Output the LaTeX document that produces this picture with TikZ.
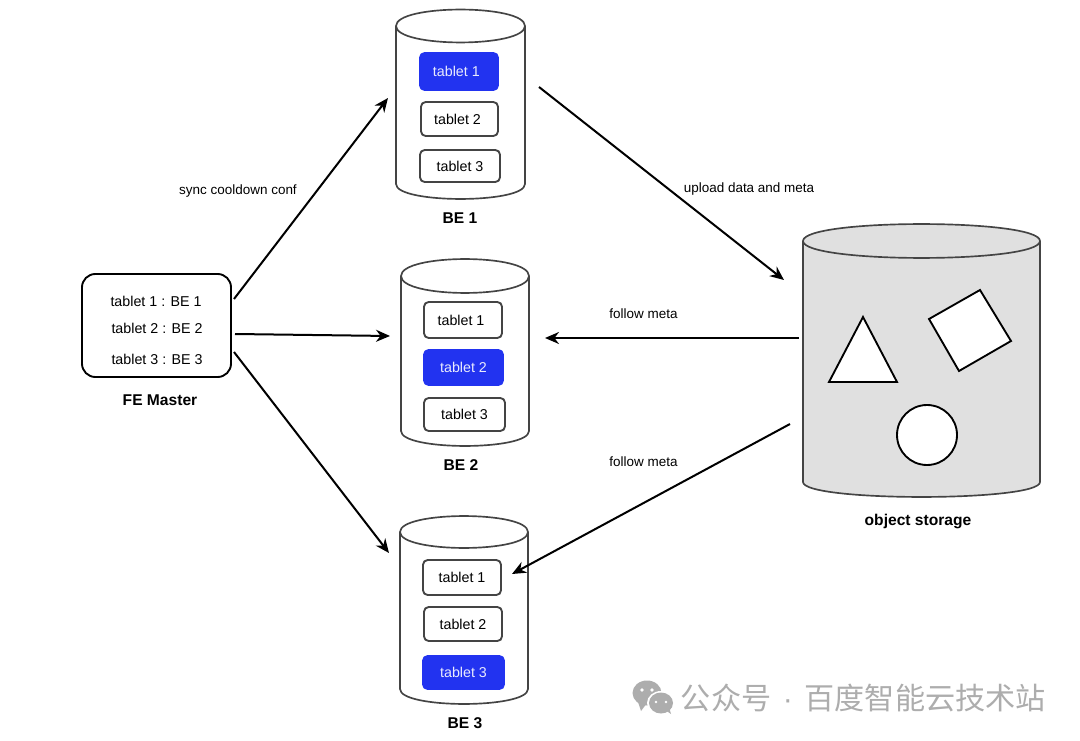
\documentclass[tikz,border=0pt]{standalone}
\usepackage{fontspec}
\setmainfont{Liberation Sans}
\newfontfamily\cjkwm{Noto Sans CJK SC}
\usetikzlibrary{arrows.meta,calc}
\definecolor{edgegray}{HTML}{444444}
\definecolor{tabblue}{HTML}{2233F0}
\definecolor{stgray}{HTML}{E0E0E0}
\definecolor{wmgray}{HTML}{ADADAD}
\tikzset{
  x=0.75pt,y=-0.75pt,
  cyl/.style={draw=edgegray,line width=1.25pt,line join=round},
  tabbox/.style={draw=edgegray,line width=1.4pt,rounded corners=3.5pt,fill=white,text=black,inner sep=0pt,font=\fontsize{10.7}{12}\selectfont},
  tabon/.style={tabbox,draw=tabblue,fill=tabblue,text=white!90!tabblue},
  captext/.style={font=\bfseries\fontsize{11.7}{13}\selectfont,inner sep=0pt},
  lab/.style={font=\fontsize{10.1}{12}\selectfont,inner sep=0pt},
  fetext/.style={font=\fontsize{10.7}{12}\selectfont,inner sep=0pt},
  arr/.style={draw=black,line width=1.5pt,-{Stealth[length=10.5pt,width=9pt]}},
  shp/.style={draw=black,line width=1.4pt,fill=white,line join=miter},
  ghost/.style={inner sep=0pt,outer sep=0pt}
}
% \mycyl{left}{right}{name}{top}{ellipse mid}{side end}{bottom}{fill}
\newcommand{\mycyl}[8]{
  \path[cyl,fill=#8] (#1,#5) -- (#1,#6)
    .. controls (#1,{#7+(#7-#6)*0.33}) and (#2,{#7+(#7-#6)*0.33}) .. (#2,#6) -- (#2,#5)
    .. controls (#2,{#4-(#5-#4)*0.33}) and (#1,{#4-(#5-#4)*0.33}) .. (#1,#5) -- cycle;
  \path[cyl] (#1,#5) .. controls (#1,{#5+(#5-#4)*1.33}) and (#2,{#5+(#5-#4)*1.33}) .. (#2,#5);
  \path ({(#1+#2)/2},{(#4+#7)/2}) node[ghost,minimum width={(#2-#1)*0.75pt},minimum height={(#7-#4)*0.75pt}] (#3) {};
}
% \tablet{name}{style}{x1}{y1}{x2}{y2}{text}
\newcommand{\tablet}[7]{
  \node[#2,minimum width={(#5-#3-2)*0.75pt},minimum height={(#6-#4-2)*0.75pt}] (#1) at ({(#3+#5)/2},{(#4+#6)/2}) {\raisebox{-0.75pt}{#7}};
}
\begin{document}
\begin{tikzpicture}
\useasboundingbox (0,0) rectangle (1080,741);
\fill[white] (0,0) rectangle (1080,741);

% Backend cylinders
\mycyl{396}{525}{be1}{9.5}{26}{184}{199}{white}
\mycyl{401}{529}{be2}{259}{276}{431}{446}{white}
\mycyl{400}{528}{be3}{516}{532}{689}{704}{white}

\tablet{b1a}{tabon}{419}{52}{499}{91}{\hspace*{-4pt}tablet 1}
\tablet{b1b}{tabbox}{420}{101}{499}{137}{\hspace*{-3pt}tablet 2}
\tablet{b1c}{tabbox}{419}{149}{501}{183}{tablet 3}
\tablet{b2a}{tabbox}{423}{301}{503}{339}{\hspace*{-3pt}tablet 1}
\tablet{b2b}{tabon}{423}{349}{504}{386}{tablet 2}
\tablet{b2c}{tabbox}{423}{397}{506}{432}{tablet 3}
\tablet{b3a}{tabbox}{422}{559}{502}{596}{tablet 1}
\tablet{b3b}{tabbox}{423}{606}{503}{642}{tablet 2}
\tablet{b3c}{tabon}{422}{655}{505}{690}{tablet 3}

\node[captext] (be1cap) at (460,218.5) {BE 1};
\node[captext] (be2cap) at (461,465.5) {BE 2};
\node[captext] (be3cap) at (465,723.5) {BE 3};

% Object storage
\mycyl{803}{1040}{obj}{224}{241}{482}{497}{stgray}
\draw[shp] (863,317) -- (829,382) -- (897,382) -- cycle;
\draw[shp] (980,290) -- (1011,341) -- (959,371) -- (929,319) -- cycle;
\draw[shp] (927,435) circle[radius=30];
\node[captext] (objcap) at (918,521.5) {object storage};

% FE master
\node[draw=black,line width=1.4pt,rounded corners=10pt,fill=white,minimum width=111.75pt,minimum height=77.25pt,ghost] (fe) at (156.5,325.5) {};
\node[fetext] (fe1) at (156,301) {tablet 1 : BE 1};
\node[fetext] (fe2) at (157,328) {tablet 2 : BE 2};
\node[fetext] (fe3) at (157,359) {tablet 3 : BE 3};
\node[captext] (fecap) at (160,400.5) {FE Master};

% Connector ends
\coordinate (feA) at (234,299);
\coordinate (feB) at (235,334);
\coordinate (feC) at (234,352);
\coordinate (be1in) at (388,98);
\coordinate (be2in) at (390,336);
\coordinate (be3in) at (389,553);
\coordinate (be1out) at (539,87);
\coordinate (objin) at (784,280);
\coordinate (objoutA) at (799,338);
\coordinate (be2m) at (545,338);
\coordinate (objoutB) at (790,424);
\coordinate (be3m) at (512,574);

\draw[arr] (feA) -- (be1in);
\draw[arr] (feB) -- (be2in);
\draw[arr] (feC) -- (be3in);
\draw[arr] (be1out) -- (objin);
\draw[arr] (objoutA) -- (be2m);
\draw[arr] (objoutB) -- (be3m);

\node[lab] (l1) at (238,191) {sync cooldown conf};
\node[lab] (l2) at (749,189) {upload data and meta};
\node[lab] (l3) at (643.5,314) {follow meta};
\node[lab] (l4) at (643.5,462) {follow meta};

% Watermark
\fill[wmgray] (647,693) ellipse[x radius=14.5,y radius=12.5];
\fill[wmgray] (638,702) -- (641,711) -- (647,703) -- cycle;
\fill[white] (661,703) ellipse[x radius=14,y radius=12];
\fill[wmgray] (661,703) ellipse[x radius=12,y radius=10.5];
\fill[wmgray] (665,710) -- (671,714) -- (669,707) -- cycle;
\fill[white] (642,690) circle[radius=1.8] (652,690) circle[radius=1.8];
\fill[white] (656,702) circle[radius=1.4] (666,702) circle[radius=1.4];
\node[inner sep=0pt,anchor=east,text=wmgray,font=\cjkwm\fontsize{22.6}{24}\selectfont] (wm) at (1046,698) {公众号\makebox[25pt][c]{\rmfamily ·}百度智能云技术站};
\end{tikzpicture}
\end{document}
